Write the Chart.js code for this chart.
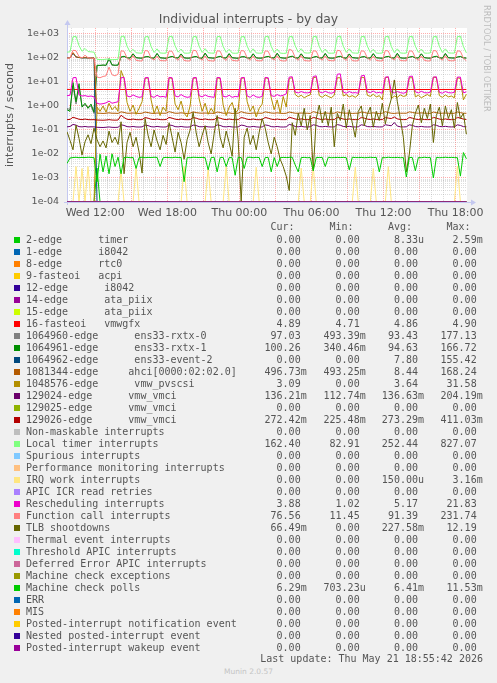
<!DOCTYPE html>
<html>
<head>
<meta charset="utf-8">
<title>Individual interrupts - by day</title>
<script src="https://cdn.jsdelivr.net/npm/chart.js@4.4.1/dist/chart.umd.min.js"></script>
<style>
  html, body { margin: 0; padding: 0; background: #f0f0f0; }
  #wrap { position: relative; width: 497px; height: 683px; overflow: hidden; background: #f0f0f0; }
  #chart { position: absolute; left: 0; top: 0; }
  .mono { position: absolute; font-family: 'DejaVu Sans Mono', monospace; font-size: 10px; line-height: 12px; color: #555; white-space: pre; }
  .num { width: 90px; text-align: right; }
  .sw { position: absolute; width: 6px; height: 6px; }
  #rrd { position: absolute; left: 482px; top: 5px; writing-mode: vertical-rl; font-family: 'DejaVu Sans', sans-serif; font-size: 8.3px; line-height: 10px; color: #bdbdbd; white-space: nowrap; }
  #munin { position: absolute; left: 0; width: 497px; top: 667px; text-align: center; font-family: 'DejaVu Sans', sans-serif; font-size: 7.5px; line-height: 10px; color: #c4c4c4; }
</style>
</head>
<body>
<div id="wrap">
  <canvas id="chart" width="497" height="230"></canvas>
  <div id="rrd">RRDTOOL / TOBI OETIKER</div>
  <div id="legend"></div>
  <div id="munin">Munin 2.0.57</div>
</div>
<script>
// ---- time axis (hours after Wed 00:00) ----
const T_START = 9.65;   // first sample
const T_SPAN = 33.25;   // hours covered by samples
const X_MIN = 9.65, X_MAX = 42.95;
const Y_MIN = 1e-4, Y_MAX = 1778;

const xTickHours = [12, 18, 24, 30, 36, 42];
const xTickLabels = ['Wed 12:00', 'Wed 18:00', 'Thu 00:00', 'Thu 06:00', 'Thu 12:00', 'Thu 18:00'];
const yTickExps = [-4, -3, -2, -1, 0, 1, 2, 3];
const yTickLabels = ['1e-04', '1e-03', '1e-02', '1e-01', '1e+00', '1e+01', '1e+02', '1e+03'];

// ---- series values (15-minute samples) ----
const zeroLine = [0, 0];

const timerVals = [
  0, 0, 0, 0, 0, 0, 0, 0, 0, 0,
  0.00259, 0, 0, 0, 0, 0, 0, 0, 0, 0,
  0, 0, 0, 0, 0, 0, 0, 0, 0, 0,
  0, 0, 0, 0, 0, 0, 0, 0, 0, 0,
  0, 0, 0, 0, 0, 0, 0, 0, 0, 0,
  0, 0, 0, 0, 0, 0, 0, 0, 0, 0,
  0, 0, 0, 0, 0, 0, 0, 0, 0, 0,
  0, 0, 0, 0, 0, 0, 0, 0, 0, 0,
  0, 0, 0, 0, 0, 0, 0, 0, 0, 0,
  0, 0, 0, 0, 0, 0, 0, 0, 0, 0,
  0, 0, 0, 0, 0, 0, 0, 0, 0, 0,
  0, 0, 0, 0, 0, 0, 0, 0, 0, 0,
  0, 0, 0, 0, 0, 0, 0, 0, 0, 0,
  0, 0, 0, 0
];

const vmwgfxVals = [4.89, 4.87, 4.86, 4.86, 4.85, 4.86, 4.87, 4.86, 4.85, 4.86, 4.87, 4.89];

const rxtx0Vals = [
  0.8, 0.7,
  7, 1.2, 6, 1.0, 1.1, 0.9, 1.0, 0.49,
  48, 49, 50, 48, 90, 50, 49, 50,
  107, 114, 100, 97, 147, 101, 98, 97,
  109, 112, 99, 97, 152, 100, 98, 96,
  105, 114, 101, 98, 145, 100, 97, 98,
  108, 113, 98, 96, 156, 101, 99, 97,
  106, 115, 100, 98, 149, 101, 98, 96,
  109, 111, 99, 97, 147, 100, 97, 98,
  107, 114, 101, 98, 155, 102, 98, 97,
  108, 116, 100, 97, 147, 101, 98, 96,
  105, 113, 99, 98, 152, 100, 97, 98,
  109, 115, 101, 96, 145, 102, 99, 97,
  107, 112, 98, 98, 149, 101, 98, 96,
  108, 114, 100, 97, 154, 100, 97, 98,
  106, 113, 99, 98, 147, 102, 98, 97,
  109, 115, 101, 96, 151, 101, 99, 98,
  108, 113, 99, 97.03
];

const rxtx1Vals = [
  0.7, 0.6,
  9.5, 1.5, 8.5, 0.9, 1.3, 0.8, 1.2, 0.55,
  50, 49, 51, 50, 95, 52, 50, 51,
  110, 118, 102, 100, 150, 104, 100, 99,
  112, 115, 101, 99, 155, 103, 100, 98,
  108, 117, 103, 100, 148, 102, 99, 100,
  111, 116, 100, 98, 160, 104, 101, 99,
  109, 118, 102, 100, 152, 103, 100, 98,
  112, 114, 101, 99, 150, 102, 99, 100,
  110, 117, 103, 100, 158, 104, 100, 99,
  111, 119, 102, 99, 150, 103, 100, 98,
  108, 116, 101, 100, 155, 102, 99, 100,
  112, 118, 103, 98, 148, 104, 101, 99,
  110, 115, 100, 100, 152, 103, 100, 98,
  111, 117, 102, 99, 157, 102, 99, 100,
  109, 116, 101, 100, 150, 104, 100, 99,
  112, 118, 103, 98, 154, 103, 101, 100,
  110, 116, 102, 100.26
];

const event2Vals = [
  100, 102, 155, 110, 104, 100, 101, 100, 99, 100,
  0, 0, 0, 0, 0, 0, 0, 0, 0, 0,
  0, 0, 0, 0, 0, 0, 0, 0, 0, 0,
  0, 0, 0, 0, 0, 0, 0, 0, 0, 0,
  0, 0, 0, 0, 0, 0, 0, 0, 0, 0,
  0, 0, 0, 0, 0, 0, 0, 0, 0, 0,
  0, 0, 0, 0, 0, 0, 0, 0, 0, 0,
  0, 0, 0, 0, 0, 0, 0, 0, 0, 0,
  0, 0, 0, 0, 0, 0, 0, 0, 0, 0,
  0, 0, 0, 0, 0, 0, 0, 0, 0, 0,
  0, 0, 0, 0, 0, 0, 0, 0, 0, 0,
  0, 0, 0, 0, 0, 0, 0, 0, 0, 0,
  0, 0, 0, 0, 0, 0, 0, 0, 0, 0,
  0, 0, 0, 0
];

const ahciVals = [
  101, 100,
  168, 112, 105, 101, 103, 100, 100, 101,
  0.5, 0.5, 0.49, 0.5, 0.52, 0.5, 0.5, 0.49,
  0.57, 0.54, 0.5, 0.5, 0.51, 0.5, 0.49, 0.5,
  0.56, 0.53, 0.5, 0.49, 0.51, 0.5, 0.5, 0.5,
  0.58, 0.54, 0.5, 0.5, 0.52, 0.5, 0.49, 0.5,
  0.57, 0.53, 0.51, 0.5, 0.51, 0.5, 0.5, 0.49,
  0.56, 0.54, 0.5, 0.5, 0.52, 0.49, 0.5, 0.5,
  0.58, 0.53, 0.5, 0.49, 0.51, 0.5, 0.5, 0.5,
  0.57, 0.54, 0.51, 0.5, 0.52, 0.5, 0.49, 0.5,
  0.56, 0.53, 0.5, 0.5, 0.51, 0.5, 0.5, 0.49,
  0.58, 0.54, 0.5, 0.49, 0.52, 0.5, 0.5, 0.5,
  0.57, 0.53, 0.51, 0.5, 0.51, 0.49, 0.5, 0.5,
  0.56, 0.54, 0.5, 0.5, 0.52, 0.5, 0.49, 0.5,
  0.58, 0.53, 0.5, 0.49, 0.51, 0.5, 0.5, 0.5,
  0.57, 0.54, 0.51, 0.5, 0.52, 0.5, 0.5, 0.49,
  0.56, 0.53, 0.5, 0.5, 0.51, 0.5, 0.49, 0.5,
  0.56, 0.53, 0.5, 0.497
];

const pvscsiVals = [
  0, 0,
  0, 0, 0, 0, 0, 0, 0, 0,
  0.9, 0.6, 1.0, 0.55, 1.3, 0.7, 0.95, 0.6,
  30, 14, 1.4, 0.6, 1.1, 0.45, 0.8, 1.5,
  14, 15, 1.8, 0.5, 1.0, 0.4, 0.9, 0.6,
  15, 14, 1.2, 0.7, 1.6, 0.5, 0.35, 1.0,
  14, 15, 2.0, 0.6, 1.3, 0.45, 0.8, 0.5,
  15, 14, 1.1, 0.4, 0.9, 1.4, 0.5, 0.7,
  14, 15, 1.5, 0.6, 1.0, 0.35, 0.8, 1.2,
  15, 14, 2.2, 0.7, 1.8, 0.5, 2.5, 0.9,
  14, 15, 3.0, 2.4, 2.8, 2.2, 2.6, 2.9,
  15, 16, 2.7, 2.3, 2.9, 2.5, 2.2, 2.8,
  15, 15, 2.6, 3.0, 2.4, 2.7, 2.3, 2.9,
  16, 15, 2.8, 2.5, 3.1, 2.4, 2.7, 1.8,
  15, 16, 2.0, 2.6, 2.3, 2.9, 2.5, 2.7,
  15, 15, 2.4, 2.8, 2.2, 2.6, 3.0, 2.5,
  16, 15, 2.7, 2.3, 2.9, 2.4, 2.6, 2.2,
  15, 14, 1.8, 3.09
];

const vmci24Vals = [
  0.135, 0.14,
  0.17, 0.16, 0.138, 0.135, 0.14, 0.134, 0.136, 0.135,
  0.13, 0.128, 0.127, 0.13, 0.134, 0.129, 0.128, 0.13,
  0.165, 0.155, 0.138, 0.135, 0.14, 0.134, 0.133, 0.135,
  0.16, 0.152, 0.137, 0.134, 0.141, 0.135, 0.133, 0.134,
  0.162, 0.155, 0.138, 0.135, 0.14, 0.134, 0.132, 0.135,
  0.16, 0.154, 0.137, 0.136, 0.142, 0.135, 0.133, 0.134,
  0.163, 0.155, 0.138, 0.135, 0.14, 0.134, 0.133, 0.135,
  0.16, 0.153, 0.137, 0.134, 0.141, 0.135, 0.132, 0.134,
  0.162, 0.155, 0.138, 0.135, 0.14, 0.134, 0.133, 0.135,
  0.17, 0.16, 0.14, 0.136, 0.142, 0.135, 0.134, 0.136,
  0.165, 0.156, 0.139, 0.136, 0.141, 0.136, 0.134, 0.135,
  0.168, 0.158, 0.14, 0.137, 0.142, 0.135, 0.134, 0.136,
  0.165, 0.156, 0.139, 0.136, 0.141, 0.136, 0.134, 0.135,
  0.166, 0.157, 0.15, 0.204, 0.145, 0.136, 0.134, 0.136,
  0.164, 0.156, 0.139, 0.136, 0.141, 0.135, 0.134, 0.135,
  0.165, 0.157, 0.14, 0.137, 0.142, 0.136, 0.134, 0.136,
  0.164, 0.155, 0.138, 0.136
];

const vmci26Vals = [
  0.27, 0.275,
  0.34, 0.31, 0.28, 0.27, 0.285, 0.27, 0.268, 0.27,
  0.26, 0.258, 0.255, 0.26, 0.27, 0.26, 0.257, 0.26,
  0.411, 0.33, 0.28, 0.27, 0.285, 0.27, 0.268, 0.27,
  0.33, 0.31, 0.28, 0.272, 0.286, 0.27, 0.268, 0.272,
  0.335, 0.31, 0.282, 0.27, 0.285, 0.271, 0.269, 0.27,
  0.33, 0.312, 0.28, 0.272, 0.288, 0.27, 0.268, 0.271,
  0.332, 0.31, 0.281, 0.27, 0.285, 0.272, 0.269, 0.27,
  0.33, 0.311, 0.28, 0.271, 0.286, 0.27, 0.268, 0.272,
  0.334, 0.31, 0.282, 0.27, 0.285, 0.271, 0.27, 0.27,
  0.34, 0.315, 0.285, 0.274, 0.29, 0.273, 0.27, 0.272,
  0.335, 0.312, 0.283, 0.272, 0.287, 0.272, 0.27, 0.271,
  0.338, 0.314, 0.284, 0.273, 0.288, 0.272, 0.27, 0.272,
  0.336, 0.312, 0.283, 0.272, 0.287, 0.272, 0.27, 0.271,
  0.337, 0.313, 0.3, 0.35, 0.29, 0.273, 0.27, 0.272,
  0.335, 0.312, 0.283, 0.272, 0.287, 0.272, 0.27, 0.271,
  0.336, 0.313, 0.284, 0.273, 0.288, 0.272, 0.27, 0.272,
  0.335, 0.312, 0.283, 0.2724
];

const localTimerVals = [
  175, 180,
  760, 800, 330, 190, 250, 185, 180, 175,
  88, 86, 85, 90, 87, 85, 86, 88,
  780, 820, 310, 175, 230, 165, 160, 158,
  750, 800, 300, 170, 240, 162, 158, 160,
  770, 810, 320, 175, 235, 160, 158, 162,
  760, 805, 310, 170, 245, 165, 160, 158,
  770, 800, 300, 172, 230, 160, 157, 160,
  760, 790, 310, 168, 240, 162, 158, 160,
  770, 815, 305, 170, 235, 160, 155, 158,
  760, 800, 320, 175, 245, 165, 160, 162,
  770, 810, 300, 170, 235, 160, 158, 160,
  760, 827, 310, 172, 240, 163, 160, 158,
  770, 805, 315, 170, 230, 160, 157, 160,
  760, 810, 300, 168, 240, 162, 158, 160,
  770, 800, 310, 172, 235, 160, 158, 162,
  760, 805, 305, 170, 240, 163, 160, 160,
  770, 810, 300, 162.4
];

const irqWorkVals = [
  0, 0, 0, 0.003, 0, 0.0025, 0, 0.003, 0, 0,
  0, 0, 0, 0, 0, 0, 0, 0, 0.002, 0,
  0, 0, 0, 0.0028, 0, 0, 0, 0, 0, 0,
  0, 0, 0, 0, 0, 0, 0, 0, 0, 0.003,
  0, 0, 0, 0, 0, 0, 0, 0.0025, 0, 0,
  0, 0, 0, 0.003, 0, 0, 0, 0, 0, 0,
  0, 0, 0, 0.0028, 0, 0, 0, 0, 0, 0,
  0, 0, 0, 0, 0, 0, 0, 0, 0.0026, 0,
  0, 0, 0.003, 0, 0, 0, 0, 0, 0, 0,
  0, 0, 0, 0, 0, 0, 0.0028, 0, 0, 0,
  0, 0, 0.0025, 0, 0, 0, 0, 0.003, 0, 0,
  0, 0, 0, 0, 0, 0, 0, 0, 0, 0,
  0, 0, 0, 0, 0, 0, 0, 0, 0, 0,
  0.00316, 0, 0, 0
];

const reschedVals = [
  2.7, 2.8,
  15, 15.5, 2.9, 2.6, 2.7, 2.5, 2.6, 2.4,
  1.3, 1.2, 1.25, 1.35, 1.6, 1.3, 1.4, 1.5,
  15, 15.5, 2.6, 2.4, 2.9, 2.5, 2.3, 2.4,
  15, 15.5, 2.5, 2.3, 2.8, 2.4, 2.5, 2.3,
  15.5, 15, 2.6, 2.4, 3.0, 2.5, 2.3, 2.4,
  15, 15.5, 2.7, 2.4, 2.9, 2.5, 2.4, 2.3,
  15.5, 15, 2.5, 2.4, 2.8, 2.3, 2.5, 2.4,
  15, 15.5, 2.6, 2.3, 2.9, 2.4, 2.3, 2.5,
  15.5, 15, 2.7, 2.5, 3.0, 2.6, 2.8, 3.2,
  16, 16.5, 3.8, 3.5, 4.0, 3.6, 3.5, 3.7,
  17, 18, 3.9, 3.5, 4.1, 3.6, 3.4, 3.7,
  21, 21.8, 3.8, 3.4, 4.0, 3.5, 3.6, 3.4,
  18, 19, 3.9, 3.6, 4.2, 3.5, 3.7, 3.4,
  16, 16.5, 3.8, 3.5, 4.0, 3.6, 3.4, 3.7,
  17, 17.5, 3.9, 3.5, 4.1, 3.6, 3.5, 3.8,
  16, 16.5, 3.7, 3.4, 4.0, 3.6, 3.5, 3.7,
  16, 16, 3.5, 3.88
];

const funcCallVals = [
  98, 100,
  210, 200, 115, 100, 130, 102, 98, 96,
  16, 15, 17, 18, 42, 20, 18, 21,
  200, 190, 100, 80, 125, 80, 76, 75,
  205, 195, 98, 82, 120, 78, 77, 76,
  195, 190, 102, 80, 128, 79, 75, 76,
  210, 200, 100, 81, 122, 78, 76, 74,
  200, 192, 98, 79, 126, 80, 77, 75,
  205, 195, 101, 80, 120, 78, 76, 77,
  198, 190, 99, 82, 124, 79, 75, 76,
  231.74, 205, 102, 80, 128, 78, 76, 75,
  200, 192, 100, 81, 122, 80, 77, 76,
  210, 198, 98, 79, 125, 78, 75, 77,
  200, 190, 101, 80, 120, 79, 76, 75,
  205, 195, 99, 82, 126, 78, 77, 76,
  198, 192, 102, 80, 122, 80, 75, 76,
  205, 196, 100, 81, 124, 79, 76, 77,
  200, 190, 98, 76.56
];

const tlbVals = [
  0.085, 0.037, 0.015, 0.16, 0.045, 0.009, 0.032, 0.063, 0.027, 0.12,
  0.04, 0.02, 0.035, 0.018, 0.09, 0.03, 0.05, 0.025, 0.22, 0.0015,
  0.03, 0.08, 0.02, 0.05, 0.012, 0.0016, 0.3, 0.06, 0.02, 0.1,
  0.035, 0.015, 0.06, 0.025, 0.2, 0.05, 0.012, 0.08, 0.03, 0.006,
  0.04, 0.1, 0.55, 0.08, 0.02, 0.06, 0.15, 0.03, 0.01, 0.07,
  0.4, 0.05, 0.018, 0.09, 0.03, 0.008, 0.8, 0.04, 0, 0.05,
  0.12, 0.025, 0.06, 0.015, 0.08, 0.3, 0.12, 0.03, 0.01, 0.05,
  0.02, 0.006, 0.003, 0.0012, 0.0003, 0.2, 0.06, 0.5, 0.15, 0.8,
  0.1, 0.4, 0.002, 0.3, 1.1, 0.2, 0.6, 0.15, 0.9, 0.02,
  0.5, 0.25, 1.2, 0.12, 0.7, 0.2, 0.05, 0.6, 1.0, 0.15,
  0.45, 0.9, 0.13, 0.6, 0.25, 1.3, 0.18, 0.7, 2.0, 12.19,
  1.5, 0.3, 0.05, 0.0018, 0.01, 0.15, 0.5, 1.1, 0.2, 0.8,
  0.3, 1.2, 0.03, 0.4, 0.9, 0.15, 1.0, 0.3, 0.7, 0.12,
  1.4, 0.3, 0.5, 0.0665
];

const mcPollVals = [
  0.004, 0.0068,
  0.0071, 0.0073, 0.007, 0.0072, 0.0071, 0.0073, 0.0072, 0.007,
  0.0007, 0.0098, 0.0018, 0.0082, 0.0015, 0.0102, 0.003, 0.0074,
  0.0015, 0.0071, 0.0073, 0.007, 0.0072, 0.0025, 0.0071, 0.0073,
  0.007, 0.0072, 0.0071, 0.0073, 0.0072, 0.003, 0.007, 0.0072,
  0.0071, 0.007, 0.0073, 0.0071, 0.0072, 0.0007, 0.0071, 0.007,
  0.0073, 0.0072, 0.0071, 0.0072, 0.007, 0.0022, 0.0071, 0.0073,
  0.0018, 0.0071, 0.0072, 0.003, 0.0071, 0.007, 0.0013, 0.0072,
  0.0071, 0.0025, 0.0072, 0.0073, 0.007, 0.0072, 0.0071, 0.003,
  0.0071, 0.0072, 0.0018, 0.0071, 0.003, 0.007, 0.0072, 0.0071,
  0.0072, 0.0073, 0.0035, 0.0018, 0.0071, 0.0072, 0.007, 0.0071,
  0.002, 0.0072, 0.0071, 0.0072, 0.003, 0.0073, 0.007, 0.0071,
  0.0072, 0.0071, 0.0072, 0.007, 0.0022, 0.0073, 0.0071, 0.0071,
  0.0072, 0.007, 0.0071, 0.0073, 0.0071, 0.0072, 0.0018, 0.0071,
  0.007, 0.0073, 0.0071, 0.0071, 0.0072, 0.007, 0.0071, 0.0011,
  0.0072, 0.0071, 0.002, 0.0071, 0.007, 0.0073, 0.0071, 0.0071,
  0.001, 0.0072, 0.007, 0.0071, 0.0073, 0.0071, 0.0072, 0.0071,
  0.007, 0.0012, 0.0115, 0.0063
];

// ---- legend table ----
const seriesNames = [
  '2-edge      timer', '1-edge      i8042', '8-edge      rtc0', '9-fasteoi   acpi',
  '12-edge      i8042', '14-edge      ata_piix', '15-edge      ata_piix', '16-fasteoi   vmwgfx',
  '1064960-edge      ens33-rxtx-0', '1064961-edge      ens33-rxtx-1', '1064962-edge      ens33-event-2',
  '1081344-edge     ahci[0000:02:02.0]', '1048576-edge      vmw_pvscsi',
  '129024-edge      vmw_vmci', '129025-edge      vmw_vmci', '129026-edge      vmw_vmci',
  'Non-maskable interrupts', 'Local timer interrupts', 'Spurious interrupts',
  'Performance monitoring interrupts', 'IRQ work interrupts', 'APIC ICR read retries',
  'Rescheduling interrupts', 'Function call interrupts', 'TLB shootdowns',
  'Thermal event interrupts', 'Threshold APIC interrupts', 'Deferred Error APIC interrupts',
  'Machine check exceptions', 'Machine check polls', 'ERR', 'MIS',
  'Posted-interrupt notification event', 'Nested posted-interrupt event', 'Posted-interrupt wakeup event'
];
const seriesColors = [
  '#00CC00', '#0066B3', '#FF8000', '#FFCC00', '#330099', '#990099', '#CCFF00', '#FF0000',
  '#808080', '#008F00', '#00487D', '#B35A00', '#B38F00', '#6B006B', '#8FB300', '#B30000',
  '#BEBEBE', '#80FF80', '#80C9FF', '#FFC080', '#FFE680', '#AA80FF', '#EE00CC', '#FF8080',
  '#666600', '#FFBFFF', '#00FFCC', '#CC6699', '#999900', '#00CC00', '#0066B3', '#FF8000',
  '#FFCC00', '#330099', '#990099'
];
const seriesValues = [
  timerVals, zeroLine, zeroLine, zeroLine, zeroLine, zeroLine, zeroLine, vmwgfxVals,
  rxtx0Vals, rxtx1Vals, event2Vals, ahciVals, pvscsiVals, vmci24Vals, zeroLine, vmci26Vals,
  zeroLine, localTimerVals, zeroLine, zeroLine, irqWorkVals, zeroLine, reschedVals, funcCallVals,
  tlbVals, zeroLine, zeroLine, zeroLine, zeroLine, mcPollVals, zeroLine, zeroLine,
  zeroLine, zeroLine, zeroLine
];
const curVals = ['0.00','0.00','0.00','0.00','0.00','0.00','0.00','4.89','97.03','100.26','0.00','496.73m','3.09','136.21m','0.00','272.42m','0.00','162.40','0.00','0.00','0.00','0.00','3.88','76.56','66.49m','0.00','0.00','0.00','0.00','6.29m','0.00','0.00','0.00','0.00','0.00'];
const minVals = ['0.00','0.00','0.00','0.00','0.00','0.00','0.00','4.71','493.39m','340.46m','0.00','493.25m','0.00','112.74m','0.00','225.48m','0.00','82.91','0.00','0.00','0.00','0.00','1.02','11.45','0.00','0.00','0.00','0.00','0.00','703.23u','0.00','0.00','0.00','0.00','0.00'];
const avgVals = ['8.33u','0.00','0.00','0.00','0.00','0.00','0.00','4.86','93.43','94.63','7.80','8.44','3.64','136.63m','0.00','273.29m','0.00','252.44','0.00','0.00','150.00u','0.00','5.17','91.39','227.58m','0.00','0.00','0.00','0.00','6.41m','0.00','0.00','0.00','0.00','0.00'];
const maxVals = ['2.59m','0.00','0.00','0.00','0.00','0.00','0.00','4.90','177.13','166.72','155.42','168.24','31.58','204.19m','0.00','411.03m','0.00','827.07','0.00','0.00','3.16m','0.00','21.83','231.74','12.19','0.00','0.00','0.00','0.00','11.53m','0.00','0.00','0.00','0.00','0.00'];
const columnHeaders = ['Cur:', 'Min:', 'Avg:', 'Max:'];
const lastUpdate = 'Last update: Thu May 21 18:55:42 2026';

// ---- build legend (HTML text) ----
(function buildLegend() {
  const host = document.getElementById('legend');
  const ROW0 = 240, ROWH = 12;
  const colRight = [306.7, 365.7, 424, 482.7];
  function add(text, left, top, cls, width) {
    const d = document.createElement('div');
    d.className = cls;
    d.style.left = left + 'px';
    d.style.top = top + 'px';
    if (width) d.style.width = width + 'px';
    d.textContent = text;
    host.appendChild(d);
    return d;
  }
  columnHeaders.forEach((h, j) => add(h + '  ', colRight[j] - 90, 226.7 - 6, 'mono num'));
  const cols = [curVals, minVals, avgVals, maxVals];
  seriesNames.forEach((name, k) => {
    const cy = ROW0 + ROWH * k;
    const sw = document.createElement('div');
    sw.className = 'sw';
    sw.style.left = '14px';
    sw.style.top = (cy - 3) + 'px';
    sw.style.background = seriesColors[k];
    host.appendChild(sw);
    add(name, 26, cy - 6, 'mono');
    cols.forEach((arr, j) => {
      let s = arr[k];
      if (/\d$/.test(s)) s += ' ';
      add(s, colRight[j] - 90, cy - 6, 'mono num');
    });
  });
  add(lastUpdate, 483 - 300, 659.3 - 6, 'mono num', 300);
})();

// ---- chart ----
Chart.defaults.font.family = "'DejaVu Sans', sans-serif";
const MAJOR = 'rgba(255,60,60,0.42)';
const MINOR = 'rgba(128,128,128,0.27)';
function isDecade(v) {
  const e = Math.round(Math.log10(v));
  return Math.abs(Math.log10(v) - e) < 1e-6;
}

const datasets = seriesNames.map((name, k) => {
  const vals = seriesValues[k];
  const n = vals.length;
  return {
    label: name,
    // rrdtool draws zero at the floor of a logarithmic graph
    data: vals.map((v, i) => ({ x: T_START + i * T_SPAN / (n - 1), y: v > 0 ? v : Y_MIN })),
    borderColor: seriesColors[k],
    backgroundColor: seriesColors[k],
    borderWidth: 1,
    pointRadius: 0,
    tension: 0,
    fill: false,
    order: -k
  };
});

const plotBg = {
  id: 'plotBg',
  beforeDraw(chart) {
    const { ctx, chartArea: a } = chart;
    ctx.save();
    ctx.fillStyle = '#ffffff';
    ctx.fillRect(a.left, a.top, a.right - a.left, a.bottom - a.top);
    ctx.restore();
  }
};
const axisArrows = {
  id: 'axisArrows',
  beforeDatasetsDraw(chart) {
    const { ctx, chartArea: a } = chart;
    const x = Math.round(a.left) + 0.5, y = Math.round(a.bottom) + 0.5;
    ctx.save();
    ctx.strokeStyle = '#c4c8f0';
    ctx.fillStyle = '#c4c8f0';
    ctx.lineWidth = 1;
    ctx.beginPath();
    ctx.moveTo(x, a.bottom + 3); ctx.lineTo(x, a.top - 4);
    ctx.moveTo(a.left - 3, y); ctx.lineTo(a.right + 5, y);
    ctx.stroke();
    ctx.beginPath();
    ctx.moveTo(x - 3, a.top - 3); ctx.lineTo(x + 3, a.top - 3); ctx.lineTo(x, a.top - 8); ctx.closePath();
    ctx.fill();
    ctx.beginPath();
    ctx.moveTo(a.right + 4, y - 3); ctx.lineTo(a.right + 4, y + 3); ctx.lineTo(a.right + 9, y); ctx.closePath();
    ctx.fill();
    ctx.restore();
  }
};

new Chart(document.getElementById('chart'), {
  type: 'line',
  data: { datasets },
  plugins: [plotBg, axisArrows],
  options: {
    responsive: false,
    animation: false,
    events: [],
    layout: { padding: 0 },
    plugins: {
      legend: { display: false },
      tooltip: { enabled: false },
      title: {
        display: true,
        text: 'Individual interrupts - by day',
        color: '#555',
        font: { size: 12.4, weight: 'normal' },
        padding: { top: 12, bottom: 1.1 }
      }
    },
    scales: {
      x: {
        type: 'linear',
        position: 'bottom',
        min: X_MIN,
        max: X_MAX,
        afterBuildTicks: (s) => {
          const t = [];
          for (let h = Math.ceil(X_MIN); h <= Math.floor(X_MAX); h++) t.push({ value: h });
          s.ticks = t;
        },
        afterFit: (s) => { s.height = 28; },
        ticks: {
          autoSkip: false, maxRotation: 0, minRotation: 0, padding: 4.5,
          color: '#555', font: { size: 11 },
          callback: (v) => { const j = xTickHours.indexOf(v); return j >= 0 ? xTickLabels[j] : ''; }
        },
        grid: {
          drawTicks: false, lineWidth: 1,
          color: (c) => (c.tick && c.tick.value % 3 === 0) ? MAJOR : MINOR
        },
        border: { display: false, dash: [1, 1] }
      },
      y: {
        type: 'logarithmic',
        position: 'left',
        min: Y_MIN,
        max: Y_MAX,
        afterBuildTicks: (s) => {
          const t = [];
          yTickExps.forEach((e) => {
            for (let m = 1; m <= 9; m++) {
              const v = m * Math.pow(10, e);
              if (v <= Y_MAX) t.push({ value: v, major: m === 1 });
            }
          });
          s.ticks = t;
        },
        afterFit: (s) => { s.width = 67; },
        ticks: {
          autoSkip: false, padding: 8, color: '#555', font: { size: 9.5 },
          callback: (v) => {
            if (!isDecade(v)) return '';
            const j = yTickExps.indexOf(Math.round(Math.log10(v)));
            return j >= 0 ? yTickLabels[j] : '';
          }
        },
        grid: {
          drawTicks: false, lineWidth: 1,
          color: (c) => (c.tick && isDecade(c.tick.value)) ? MAJOR : MINOR
        },
        border: { display: false, dash: [1, 1] },
        title: {
          display: true, text: 'interrupts / second', color: '#555',
          font: { size: 11 }, padding: { top: 4, bottom: 0 }
        }
      },
      yR: {
        type: 'linear',
        position: 'right',
        display: true,
        afterFit: (s) => { s.width = 30; },
        grid: { display: false },
        ticks: { display: false },
        border: { display: false }
      }
    }
  }
});
</script>
</body>
</html>
